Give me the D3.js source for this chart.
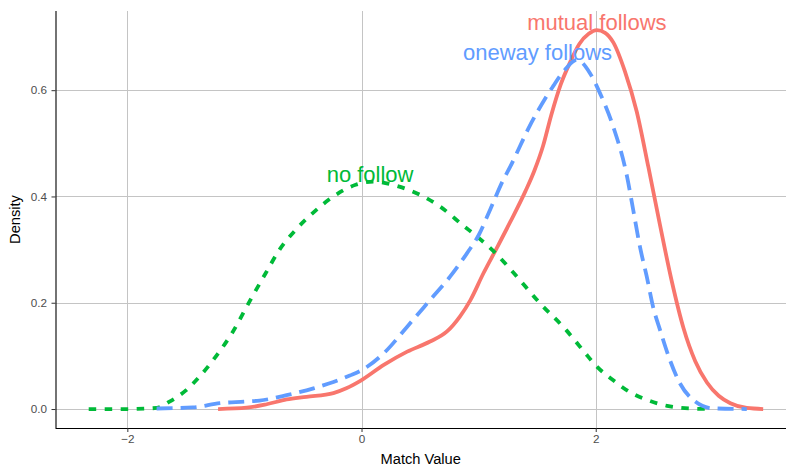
<!DOCTYPE html>
<html>
<head>
<meta charset="utf-8">
<script src="https://cdn.jsdelivr.net/npm/d3@7"></script>
<style>
  html, body { margin: 0; padding: 0; background: #fff; }
  svg { display: block; font-family: "Liberation Sans", Arial, sans-serif; }
</style>
</head>
<body>
<svg id="chart" width="786" height="470"></svg>
<script>
// ---- data ----
const seriesNames = ["mutual follows", "no follow", "oneway follows"];

const mutualX = [-1.225, -0.98, -0.81, -0.64, -0.47, -0.24, -0.13, -0.01, 0.19, 0.39, 0.585, 0.73, 0.84, 0.93, 1.04, 1.155, 1.27, 1.40, 1.475, 1.55, 1.62, 1.70, 1.78, 1.86, 1.94, 2.01, 2.08, 2.15, 2.25, 2.35, 2.45, 2.55, 2.65, 2.75, 2.85, 2.95, 3.05, 3.15, 3.29, 3.43];
const mutualY = [0, 0.0025, 0.009, 0.018, 0.023, 0.030, 0.039, 0.053, 0.083, 0.108, 0.127, 0.146, 0.174, 0.205, 0.255, 0.303, 0.352, 0.410, 0.448, 0.495, 0.553, 0.610, 0.652, 0.687, 0.706, 0.713, 0.708, 0.690, 0.635, 0.560, 0.455, 0.345, 0.240, 0.152, 0.090, 0.050, 0.025, 0.011, 0.002, 0];

const nofollowX = [-2.33, -2.0, -1.75, -1.64, -1.5, -1.38, -1.24, -1.1, -0.95, -0.82, -0.70, -0.55, -0.40, -0.24, -0.05, 0.10, 0.30, 0.50, 0.67, 0.87, 1.0, 1.15, 1.30, 1.52, 1.75, 1.90, 2.00, 2.15, 2.29, 2.44, 2.61, 2.80, 2.98];
const nofollowY = [0, 0, 0.002, 0.014, 0.035, 0.062, 0.100, 0.145, 0.205, 0.255, 0.300, 0.340, 0.372, 0.400, 0.422, 0.428, 0.420, 0.403, 0.381, 0.345, 0.322, 0.292, 0.256, 0.200, 0.148, 0.108, 0.082, 0.054, 0.032, 0.017, 0.006, 0.001, 0];

const onewayX = [-1.75, -1.44, -1.21, -1.0, -0.87, -0.64, -0.41, -0.24, -0.10, 0.0, 0.19, 0.39, 0.585, 0.756, 0.90, 1.0, 1.10, 1.21, 1.27, 1.354, 1.43, 1.496, 1.57, 1.638, 1.70, 1.752, 1.80, 1.838, 1.951, 2.037, 2.15, 2.265, 2.32, 2.378, 2.436, 2.49, 2.549, 2.634, 2.72, 2.833, 3.0, 3.29];
const onewayY = [0.001, 0.003, 0.011, 0.014, 0.016, 0.026, 0.039, 0.051, 0.063, 0.073, 0.105, 0.155, 0.205, 0.249, 0.293, 0.327, 0.376, 0.431, 0.456, 0.495, 0.530, 0.557, 0.585, 0.608, 0.628, 0.642, 0.653, 0.657, 0.632, 0.594, 0.531, 0.440, 0.375, 0.305, 0.249, 0.192, 0.149, 0.092, 0.048, 0.017, 0.0013, 0];

const labelX = [2.01, 0.073, 1.503];
const labelY = [0.713, 0.428, 0.657];

const xTicks = [-2, 0, 2];
const yTicks = [0.0, 0.2, 0.4, 0.6];

const xTitle = "Match Value";
const yTitle = "Density";

// ---- styling ----
const colors = ["#F8766D", "#00BA38", "#619CFF"];
const dashes = [null, "7.5,8.5", "16,8"];
const fontFamily = '"Liberation Sans", Arial, sans-serif';

const svg = d3.select("#chart");
const pLeft = 55.5, pRight = 786, pTop = 11, pBottom = 428;

const x = d3.scaleLinear().domain([-2.6135, 3.625]).range([pLeft, pRight]);
const y = d3.scaleLinear().domain([-0.0357, 0.749]).range([pBottom, pTop]);

// grid
const grid = svg.append("g");
grid.selectAll("line.gy").data(yTicks).join("line")
  .attr("x1", pLeft).attr("x2", pRight)
  .attr("y1", d => Math.round(y(d)) + 0.5).attr("y2", d => Math.round(y(d)) + 0.5)
  .attr("stroke", "#c4c4c4").attr("stroke-width", 1);
grid.selectAll("line.gx").data(xTicks).join("line")
  .attr("y1", pTop).attr("y2", pBottom)
  .attr("x1", d => Math.round(x(d)) + 0.5).attr("x2", d => Math.round(x(d)) + 0.5)
  .attr("stroke", "#c4c4c4").attr("stroke-width", 1);

// series
const series = [
  {x: mutualX, y: mutualY},
  {x: nofollowX, y: nofollowY},
  {x: onewayX, y: onewayY}
];
const line = d3.line().x(d => x(d[0])).y(d => y(d[1])).curve(d3.curveMonotoneX);
series.forEach((s, i) => {
  const pts = s.x.map((v, j) => [v, s.y[j]]);
  svg.append("path")
    .attr("d", line(pts))
    .attr("fill", "none")
    .attr("stroke", colors[i])
    .attr("stroke-width", 3.8)
    .attr("stroke-dasharray", dashes[i])
    .attr("stroke-linecap", "butt")
    .attr("stroke-linejoin", "round");
});

// axes
const xAxis = svg.append("g").attr("transform", `translate(0,${pBottom})`)
  .call(d3.axisBottom(x).tickValues(xTicks).tickFormat(d3.format("d")).tickSize(4).tickSizeOuter(0).tickPadding(3));
const yAxis = svg.append("g").attr("transform", `translate(${pLeft},0)`)
  .call(d3.axisLeft(y).tickValues(yTicks).tickFormat(d3.format(".1f")).tickSize(4).tickSizeOuter(0).tickPadding(4.5));
[xAxis, yAxis].forEach(a => {
  a.attr("font-size", 11.7).attr("font-family", fontFamily);
  a.select(".domain").attr("stroke", "#000").attr("stroke-width", 1.1);
  a.selectAll(".tick line").attr("stroke", "#333");
  a.selectAll(".tick text").attr("fill", "#4D4D4D");
});
xAxis.select(".domain").attr("d", `M${pLeft},0.5H${pRight}`);
yAxis.select(".domain").attr("d", `M0.5,${pTop}V${pBottom}`);

// axis titles
svg.append("text").attr("x", (pLeft + pRight) / 2).attr("y", 464)
  .attr("text-anchor", "middle").attr("font-size", 14.67).attr("fill", "#000").text(xTitle);
svg.append("text").attr("transform", `translate(20,${(pTop + pBottom) / 2}) rotate(-90)`)
  .attr("text-anchor", "middle").attr("font-size", 14.67).attr("fill", "#000").text(yTitle);

// labels
seriesNames.forEach((n, i) => {
  svg.append("text")
    .attr("x", x(labelX[i])).attr("y", y(labelY[i]))
    .attr("text-anchor", "middle")
    .attr("font-size", 22)
    .attr("fill", colors[i])
    .text(n);
});
</script>
</body>
</html>
